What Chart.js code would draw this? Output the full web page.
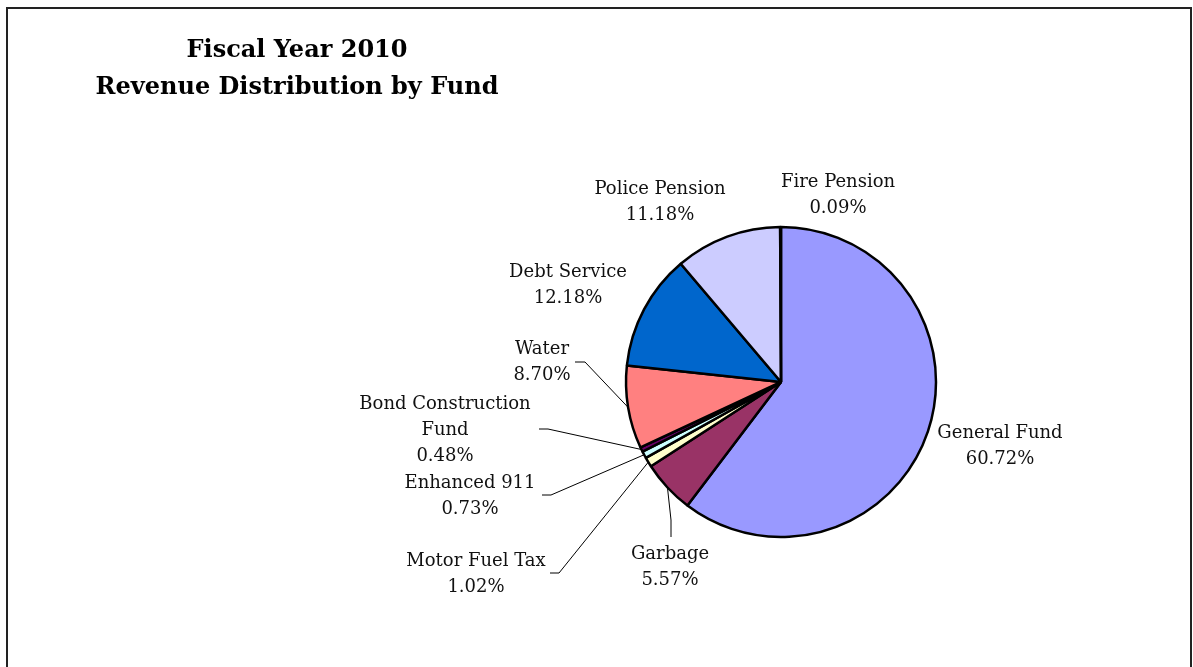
<!DOCTYPE html>
<html>
<head>
<meta charset="utf-8">
<title>Fiscal Year 2010 Revenue Distribution by Fund</title>
<script src="https://cdn.jsdelivr.net/npm/chart.js@4.4.1/dist/chart.umd.min.js"></script>
<style>
  html, body { margin: 0; padding: 0; background: #fff; }
  canvas { display: block; }
</style>
</head>
<body>
<canvas id="pie" width="1193" height="667"></canvas>
<script>
// Datos del gráfico
const fondos = ['General Fund', 'Garbage', 'Motor Fuel Tax', 'Enhanced 911', 'Bond Construction Fund',
                'Water', 'Debt Service', 'Police Pension', 'Fire Pension'];
const porcentajes = [60.72, 5.57, 1.02, 0.73, 0.48, 8.70, 12.18, 11.18, 0.09];
const colores = ['#9999FF', '#993366', '#FFFFCC', '#CCFFFF', '#660066', '#FF8080', '#0066CC', '#CCCCFF', '#000080'];

// Líneas de texto de cada etiqueta (nombre partido como en el original)
const lineasEtiqueta = [
    ['General Fund'], ['Garbage'], ['Motor Fuel Tax'], ['Enhanced 911'], ['Bond Construction', 'Fund'],
    ['Water'], ['Debt Service'], ['Police Pension'], ['Fire Pension']
];

// Posición de cada etiqueta (centro x, y de la primera línea) y codo de la línea guía
const posEtiqueta = [
    { x: 1000, y: 433 }, { x: 670, y: 554 }, { x: 476, y: 561 }, { x: 470, y: 483 }, { x: 445, y: 404 },
    { x: 542, y: 349 }, { x: 568, y: 272 }, { x: 660, y: 189 }, { x: 838, y: 182 }
];
const guias = [
    null,
    [[671, 537], [671, 520]],
    [[550, 573], [559, 573]],
    [[542, 495], [551, 495]],
    [[539, 429], [548, 429]],
    [[575, 362], [585, 362]],
    null, null, null
];

const fuente = '"DejaVu Serif", serif';
const altoLinea = 26;

// Marco, título, etiquetas y líneas guía
const etiquetasPlugin = {
    id: 'etiquetas',
    beforeDraw(chart) {
        const ctx = chart.ctx;
        ctx.save();
        ctx.fillStyle = '#fff';
        ctx.fillRect(0, 0, chart.width, chart.height);
        ctx.strokeStyle = '#222';
        ctx.lineWidth = 2;
        ctx.strokeRect(7, 8, 1184, 700);
        ctx.restore();
    },
    afterDatasetsDraw(chart) {
        const ctx = chart.ctx;
        const arcos = chart.getDatasetMeta(0).data;
        ctx.save();

        // Título
        ctx.fillStyle = '#000';
        ctx.textAlign = 'center';
        ctx.textBaseline = 'middle';
        ctx.font = 'bold 24px ' + fuente;
        ctx.fillText('Fiscal Year 2010', 297, 51);
        ctx.fillText('Revenue Distribution by Fund', 297, 88);

        // Líneas guía hasta el punto medio de cada porción
        ctx.strokeStyle = '#000';
        ctx.lineWidth = 1;
        guias.forEach((g, i) => {
            if (!g) return;
            const a = arcos[i].getProps(['x', 'y', 'startAngle', 'endAngle', 'outerRadius'], true);
            const medio = (a.startAngle + a.endAngle) / 2;
            const px = a.x + Math.cos(medio) * a.outerRadius;
            const py = a.y + Math.sin(medio) * a.outerRadius;
            ctx.beginPath();
            ctx.moveTo(g[0][0], g[0][1]);
            ctx.lineTo(g[1][0], g[1][1]);
            ctx.lineTo(px, py);
            ctx.stroke();
        });

        // Etiquetas con nombre y porcentaje
        ctx.font = '18px ' + fuente;
        ctx.fillStyle = '#111';
        fondos.forEach((f, i) => {
            const p = posEtiqueta[i];
            const lineas = lineasEtiqueta[i].concat([porcentajes[i].toFixed(2) + '%']);
            lineas.forEach((t, k) => ctx.fillText(t, p.x, p.y + k * altoLinea));
        });
        ctx.restore();
    }
};

new Chart(document.getElementById('pie'), {
    type: 'pie',
    data: {
        labels: fondos,
        datasets: [{
            data: porcentajes,
            backgroundColor: colores,
            borderColor: '#000',
            borderWidth: 2.5
        }]
    },
    options: {
        responsive: false,
        animation: false,
        radius: 155,
        layout: { padding: { left: 400, right: 31, top: 150, bottom: 53 } },
        plugins: {
            legend: { display: false },
            tooltip: { enabled: false },
            title: { display: false }
        }
    },
    plugins: [etiquetasPlugin]
});
</script>
</body>
</html>
